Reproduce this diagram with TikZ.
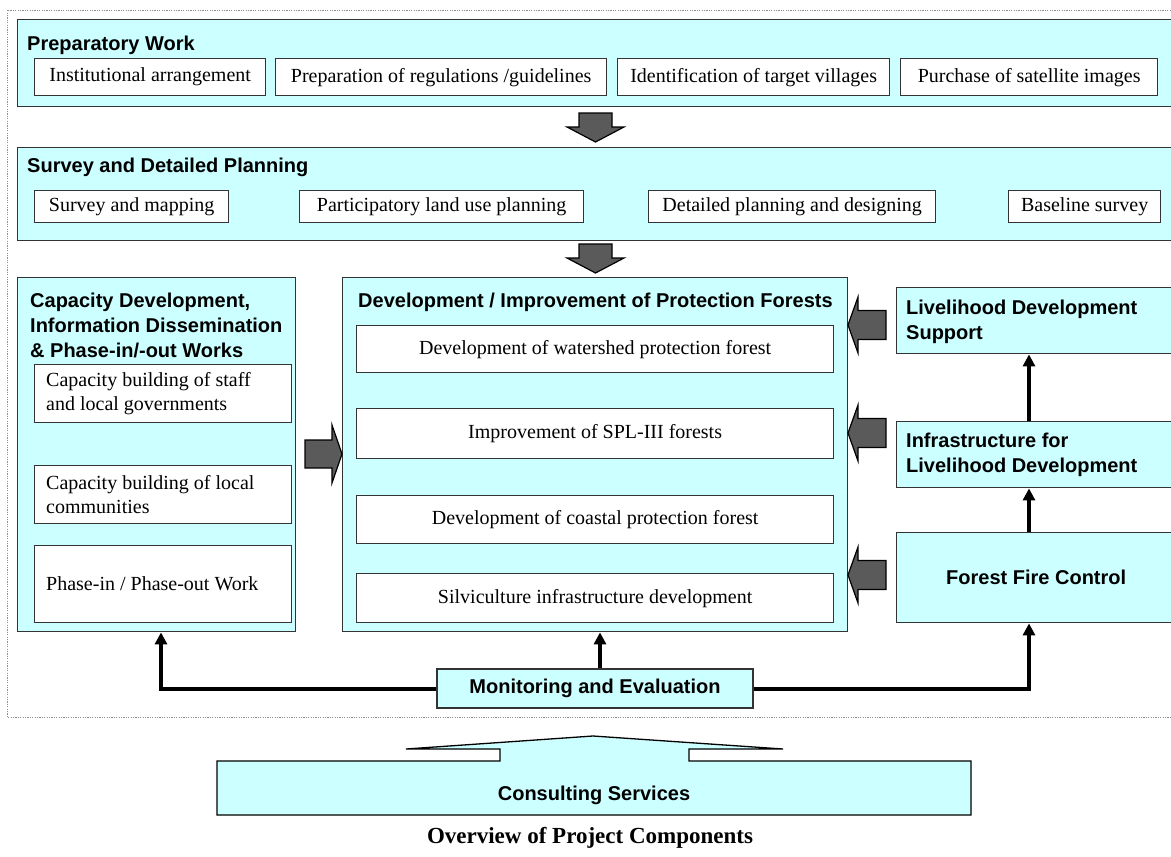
\documentclass[tikz,border=0pt]{standalone}
\usepackage{fontspec}
\setmainfont{Liberation Serif}
\newfontfamily\arialfont{Liberation Sans}
\usetikzlibrary{arrows.meta}
\definecolor{paneCyan}{HTML}{CCFFFF}
\definecolor{blockGray}{HTML}{5A5A5A}
\definecolor{edgeGray}{HTML}{333333}
\newcommand{\headfont}{\arialfont\bfseries\fontsize{20}{25}\selectfont}
\newcommand{\itemfont}{\fontsize{20}{24}\selectfont}
\tikzset{
  panel/.style={draw=edgeGray, line width=1.4pt, fill=paneCyan, inner sep=0pt, anchor=north west},
  itembox/.style={draw=edgeGray, line width=1.3pt, fill=white, inner sep=0pt, anchor=north west, font=\itemfont, align=center},
  headtext/.style={inner sep=0pt, anchor=north west, font=\headfont, align=left},
  itemtext/.style={inner sep=0pt, anchor=west, font=\itemfont, align=left},
  flow/.style={line width=4pt, -{Triangle[length=12pt,width=12pt]}},
  blockarrow/.style={draw=black, line width=1.2pt, fill=blockGray, line join=miter},
  outline/.style={draw=black!45, line width=1pt, dash pattern=on 1.2pt off 1.2pt},
}
\begin{document}
\begin{tikzpicture}[x=1pt,y=-1pt]
\useasboundingbox (0,0) rectangle (1171,857);
\begin{scope}
\clip (0,0) rectangle (1171,857);
% dotted frame around the project body
\draw[outline] (1190,10) -- (7,10) -- (7,717) -- (1190,717);

% ---------- Preparatory work ----------
\node[panel, minimum width=1180pt, minimum height=87pt] (prep) at (17,19) {};
\node[headtext] (prepT) at (27,36) {Preparatory Work};
\node[itembox, minimum width=231pt, minimum height=37pt] (p1) at (34,58) {Institutional arrangement};
\node[itembox, minimum width=331pt, minimum height=37pt] (p2) at (275,58) {Preparation of regulations /guidelines};
\node[itembox, minimum width=272pt, minimum height=37pt] (p3) at (617,58) {Identification of target villages};
\node[itembox, minimum width=257pt, minimum height=37pt] (p4) at (900,58) {Purchase of satellite images};

% ---------- Survey and detailed planning ----------
\node[panel, minimum width=1180pt, minimum height=93pt] (surv) at (17,147) {};
\node[headtext] (survT) at (27,158) {Survey and Detailed Planning};
\node[itembox, minimum width=194pt, minimum height=32pt] (s1) at (34,190) {Survey and mapping};
\node[itembox, minimum width=284pt, minimum height=32pt] (s2) at (299,190) {Participatory land use planning};
\node[itembox, minimum width=287pt, minimum height=32pt] (s3) at (648,190) {Detailed planning and designing};
\node[itembox, minimum width=152pt, minimum height=32pt] (s4) at (1008,190) {Baseline survey};

% down block arrows between the top panels
\draw[blockarrow] (579,113) -- (612,113) -- (612,127) -- (624,127) -- (595.5,142) -- (567,127) -- (579,127) -- cycle;
\draw[blockarrow] (579,244) -- (612,244) -- (612,258) -- (624,258) -- (595.5,273) -- (567,258) -- (579,258) -- cycle;

% ---------- Capacity development ----------
\node[panel, minimum width=278pt, minimum height=354pt] (cap) at (17,277) {};
\node[headtext] (capT) at (30,293) {Capacity Development,\\Information Dissemination\\\& Phase-in/-out Works};
\node[itembox, minimum width=257pt, minimum height=58pt] (c1) at (34,364) {};
\node[itemtext] at ([xshift=12pt]c1.west) {Capacity building of staff\\and local governments};
\node[itembox, minimum width=257pt, minimum height=58pt] (c2) at (34,465) {};
\node[itemtext] at ([xshift=12pt]c2.west) {Capacity building of local\\communities};
\node[itembox, minimum width=257pt, minimum height=77pt] (c3) at (34,545) {};
\node[itemtext] at ([xshift=12pt]c3.west) {Phase-in / Phase-out Work};

% ---------- Protection forests ----------
\node[panel, minimum width=505pt, minimum height=354pt] (dev) at (342,277) {};
\node[headtext] (devT) at (358,293) {Development / Improvement of Protection Forests};
\node[itembox, minimum width=477pt, minimum height=47pt] (d1) at (356,325) {Development of watershed protection forest};
\node[itembox, minimum width=477pt, minimum height=50pt] (d2) at (356,408) {Improvement of SPL-III forests};
\node[itembox, minimum width=477pt, minimum height=48pt] (d3) at (356,495) {Development of coastal protection forest};
\node[itembox, minimum width=477pt, minimum height=49pt] (d4) at (356,573) {Silviculture infrastructure development};

% ---------- Livelihood column ----------
\node[panel, minimum width=290pt, minimum height=66pt] (lds) at (896,287) {};
\node[headtext] at (906,300) {Livelihood Development\\Support};
\node[panel, minimum width=290pt, minimum height=66pt] (infra) at (896,421) {};
\node[headtext] at (906,433) {Infrastructure for\\Livelihood Development};
\node[panel, minimum width=279pt, minimum height=90pt, font=\headfont] (fire) at (896,532) {Forest Fire Control};

% block arrows into the protection forest panel
\foreach \cy in {325,433,575}{
  \draw[blockarrow] (886,\cy-14.5) -- (858,\cy-14.5) -- (858,\cy-28) -- (848,\cy) -- (858,\cy+28) -- (858,\cy+14.5) -- (886,\cy+14.5) -- cycle;
}
% block arrow from capacity development
\draw[blockarrow] (305,440) -- (332,440) -- (332,425) -- (342,454) -- (332,483) -- (332,468) -- (305,468) -- cycle;

% livelihood chain
\draw[flow] (infra.north -| 1029,0) -- (lds.south -| 1029,0);
\draw[flow] (fire.north -| 1029,0) -- (infra.south -| 1029,0);

% ---------- Monitoring and evaluation ----------
\node[panel, anchor=center, minimum width=316pt, minimum height=39pt, font=\headfont] (me) at (595,688.5) {Monitoring and Evaluation};
\draw[flow, line join=miter] (me.west) -- (161,688.5) -- (cap.south -| 161,0);
\draw[flow] (me.north -| 600,0) -- (dev.south -| 600,0);
\draw[flow, line join=miter] (me.east) -- (1029,688.5) -- (fire.south -| 1029,0);

% ---------- Consulting services ----------
\draw[draw=black, line width=1.3pt, fill=paneCyan, line join=miter]
  (217,761) -- (500,761) -- (500,749) -- (406,749) -- (593,736) -- (783,749) -- (689,749) -- (689,761)
  -- (971,761) -- (971,815) -- (217,815) -- cycle;
\node[font=\headfont, inner sep=0pt] (cons) at (594,795) {Consulting Services};

% caption
\node[font=\bfseries\fontsize{23}{27}\selectfont, inner sep=0pt] (cap-title) at (590,838) {Overview of Project Components};
\end{scope}
\end{tikzpicture}
\end{document}
